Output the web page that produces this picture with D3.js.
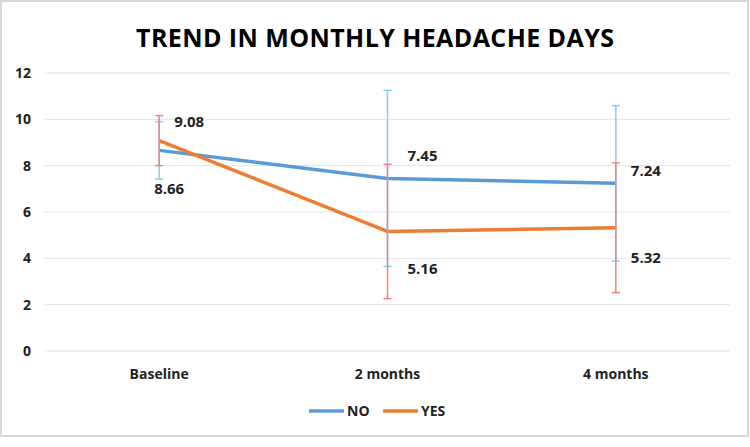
<!DOCTYPE html>
<html>
<head>
<meta charset="utf-8">
<script src="https://cdn.jsdelivr.net/npm/d3@7"></script>
<style>
  body { margin: 0; background: #fff; }
  text { font-family: 'Open Sans', sans-serif; }
</style>
</head>
<body>
<script>
// Chart data
const categories = ['Baseline', '2 months', '4 months'];
const seriesNames = ['NO', 'YES'];
const noValues = [8.66, 7.45, 7.24];
const yesValues = [9.08, 5.16, 5.32];
const noErrors = [1.24, 3.8, 3.35];
const yesErrors = [1.08, 2.9, 2.8];
const yTicks = [0, 2, 4, 6, 8, 10, 12];

const width = 750;
const height = 447;

const svg = d3.select('body').append('svg')
  .attr('width', width)
  .attr('height', height);

// Outer frame
svg.append('rect')
  .attr('x', 1).attr('y', 1)
  .attr('width', 747).attr('height', 435)
  .attr('fill', '#fff')
  .attr('stroke', '#d9d9d9')
  .attr('stroke-width', 2);

// Title
svg.append('text')
  .attr('x', 375).attr('y', 47)
  .attr('text-anchor', 'middle')
  .attr('font-size', '25px')
  .attr('font-weight', 'bold')
  .attr('fill', '#000')
  .attr('textLength', 478)
  .text('TREND IN MONTHLY HEADACHE DAYS');

// Scales
const x = d3.scaleBand().domain(categories).range([45, 730]);
const y = d3.scaleLinear().domain([0, 12]).range([351, 73]);
const cx = (c) => x(c) + x.bandwidth() / 2;

// Gridlines
svg.append('g')
  .selectAll('line')
  .data(yTicks)
  .enter()
  .append('line')
  .attr('x1', 45).attr('x2', 730)
  .attr('y1', (d) => y(d)).attr('y2', (d) => y(d))
  .attr('stroke', '#e3e3e3')
  .attr('stroke-width', 1);

// Y axis labels
const yAxis = svg.append('g')
  .attr('transform', 'translate(45,0)')
  .call(d3.axisLeft(y).tickValues(yTicks).tickSize(0).tickPadding(14));
yAxis.select('.domain').remove();
yAxis.selectAll('text')
  .attr('font-family', "'Open Sans', sans-serif")
  .attr('font-size', '14px')
  .attr('font-weight', 'bold')
  .attr('fill', '#222');

// X axis labels
const xAxis = svg.append('g')
  .attr('transform', 'translate(0,351)')
  .call(d3.axisBottom(x).tickSize(0).tickPadding(18));
xAxis.select('.domain').remove();
xAxis.selectAll('text')
  .attr('font-family', "'Open Sans', sans-serif")
  .attr('font-size', '14px')
  .attr('font-weight', 'bold')
  .attr('fill', '#222');

const series = [
  { name: 'NO', values: noValues, errors: noErrors, color: '#5b9bd5', errColor: '#7fd0f5' },
  { name: 'YES', values: yesValues, errors: yesErrors, color: '#ed7d31', errColor: '#f4837d' },
];

const line = d3.line()
  .x((d, i) => cx(categories[i]))
  .y((d) => y(d));

// Lines
series.forEach((s) => {
  svg.append('path')
    .datum(s.values)
    .attr('d', line)
    .attr('fill', 'none')
    .attr('stroke', s.color)
    .attr('stroke-width', 3.5)
    .attr('stroke-linejoin', 'round');
});

// Error bars (drawn on top of lines)
series.forEach((s) => {
  const g = svg.append('g');
  s.values.forEach((v, i) => {
    const px = cx(categories[i]);
    const top = y(v + s.errors[i]);
    const bot = y(v - s.errors[i]);
    g.append('line')
      .attr('x1', px).attr('x2', px)
      .attr('y1', top).attr('y2', bot)
      .attr('stroke', s.errColor).attr('stroke-width', 1.5);
    [top, bot].forEach((yy) => {
      g.append('line')
        .attr('x1', px - 4).attr('x2', px + 4)
        .attr('y1', yy).attr('y2', yy)
        .attr('stroke', s.errColor).attr('stroke-width', 1.5);
    });
  });
});

// Data labels (layout offsets relative to each point)
const noLabelOffset = [[-5, 44], [20, -17], [15, -7]];
const yesLabelOffset = [[15, -14], [20, 43], [15, 35]];
const labelSets = [
  [noValues, noLabelOffset],
  [yesValues, yesLabelOffset],
];
labelSets.forEach(([vals, offs]) => {
  vals.forEach((v, i) => {
    svg.append('text')
      .attr('x', cx(categories[i]) + offs[i][0])
      .attr('y', y(v) + offs[i][1])
      .attr('font-size', '15px')
      .attr('font-weight', 'bold')
      .attr('fill', '#222')
      .text(v.toFixed(2));
  });
});

// Legend
const legend = svg.append('g').attr('transform', 'translate(309,411)');
series.forEach((s, i) => {
  const lg = legend.append('g').attr('transform', `translate(${i * 74},0)`);
  lg.append('line')
    .attr('x1', 0).attr('x2', 35)
    .attr('y1', 0).attr('y2', 0)
    .attr('stroke', s.color).attr('stroke-width', 3.5);
  lg.append('text')
    .attr('x', 38).attr('y', 5)
    .attr('font-size', '14px')
    .attr('font-weight', 'bold')
    .attr('fill', '#222')
    .text(s.name);
});
</script>
</body>
</html>
